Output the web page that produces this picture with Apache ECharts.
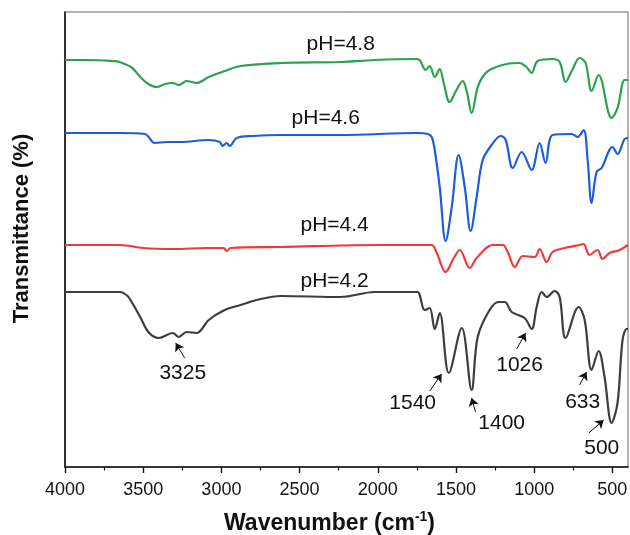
<!DOCTYPE html>
<html>
<head>
<meta charset="utf-8">
<script src="https://cdn.jsdelivr.net/npm/echarts@6/dist/echarts.min.js"></script>
<style>
html,body{margin:0;padding:0;background:#fff;}
#chart{width:630px;height:535px;}
</style>
</head>
<body>
<div id="chart"></div>
<script>
// Wavenumber (cm-1) / transmittance (arbitrary offset units) pairs
const ph48 = [[4000,407],[3855,407],[3700,406],[3650,405],[3570,399],[3519,390],[3467,383],[3414,380],[3360,383],[3311,384],[3273,382],[3222,386],[3158,384],[3081,390],[2979,396],[2877,401],[2621,404],[2237,405],[2020,407],[1757,408],[1732,407],[1694,397],[1668,401],[1636,390],[1604,398],[1580,385],[1540,365],[1500,376],[1457,386],[1430,375],[1400,354],[1361,380],[1330,390],[1285,397],[1176,403],[1093,404],[1050,400],[1016,394],[978,406],[882,408],[837,405],[799,385],[760,396],[709,409],[671,404],[633,376],[588,392],[505,349],[467,359],[422,387],[400,387]];
const ph46 = [[4000,334],[3650,334],[3489,333],[3426,324],[3350,325],[3260,325],[3081,327],[3010,325],[2992,321],[2966,324],[2947,321],[2902,329],[2800,331],[2621,332],[2237,332],[1744,334],[1680,333],[1655,330],[1636,317],[1604,280],[1566,226],[1527,260],[1483,312],[1444,280],[1406,236],[1368,270],[1329,307],[1272,322],[1214,331],[1182,327],[1137,299],[1080,315],[1016,297],[965,324],[927,304],[882,332],[761,333],[722,330],[684,337],[658,307],[633,264],[601,295],[569,299],[499,320],[467,313],[422,328],[400,329]];
const ph44 = [[4000,222],[3650,222],[3500,219],[3300,218],[3100,219],[2985,219],[2966,216],[2940,219],[2621,220],[2020,222],[1730,222],[1655,222],[1623,214],[1566,195],[1514,209],[1476,217],[1412,199],[1368,209],[1265,222],[1201,222],[1169,215],[1124,200],[1073,211],[997,210],[965,218],[920,205],[882,215],[805,219],[709,222],[684,223],[646,212],[595,217],[563,208],[518,214],[454,217],[400,222]];
const ph42 = [[4000,175],[3850,175],[3650,175],[3600,171],[3570,164],[3519,150],[3467,135],[3400,129],[3311,134],[3273,130],[3222,135],[3158,134],[3081,147],[2979,157],[2877,162],[2775,167],[2621,171],[2237,170],[2020,175],[1744,175],[1732,172],[1700,157],[1668,159],[1636,138],[1604,154],[1546,94],[1463,139],[1400,77],[1361,130],[1285,157],[1227,165],[1188,165],[1144,155],[1061,149],[1016,138],[984,160],[952,175],[920,170],[869,176],[837,170],[799,129],[716,160],[677,147],[633,97],[588,116],[550,90],[505,44],[467,64],[435,127],[409,138],[400,138]];

const seriesNames = ['pH=4.8','pH=4.6','pH=4.4','pH=4.2'];
const seriesLabelPos = [[2237,423],[2333,349],[2276,242],[2276,186]];

const peakLabels = ['3325','1540','1400','1026','633','500'];
const peakLabelPos = [[3247,94],[1777,64],[1208,44],[1093,102],[690,65],[568,19]];
const arrowTails = [[3235,109],[1668,76],[1375,55],[1112,118],[710,82],[651,34]];
const arrowTips = [[3292,124],[1592,93],[1400,69],[1055,134],[665,95],[556,47]];

const majorTicks = [4000,3500,3000,2500,2000,1500,1000,500];
const minorTicks = [3750,3250,2750,2250,1750,1250,750];

const colors = ['#2aa24f','#1b5ddb','#f03a3a','#3d3d3d'];
const FONT = 'Liberation Sans, Arial, sans-serif';

const chart = echarts.init(document.getElementById('chart'));
const lineSeries = [ph48, ph46, ph44, ph42].map((d, i) => ({
  type: 'line', name: seriesNames[i], data: d, showSymbol: false, smooth: 0.35,
  lineStyle: {color: colors[i], width: 2.2}, itemStyle: {color: colors[i]}, xAxisIndex: 0, z: 3
}));

const textLabel = {show: true, position: 'inside', formatter: '{b}', fontSize: 21, color: '#111',
  fontFamily: FONT, textBorderWidth: 0, textBorderColor: 'transparent', opacity: 1};

chart.setOption({
  animation: false,
  textStyle: {fontFamily: FONT},
  grid: {left: 65, right: 2, top: 12, bottom: 68, show: true, borderColor: '#666', borderWidth: 1, outerBoundsMode: 'none', containLabel: false},
  xAxis: [{
    type: 'value', min: 400, max: 4000, inverse: true,
    axisLine: {show: true, lineStyle: {color: '#111', width: 1.6}},
    axisTick: {show: true, customValues: majorTicks, length: 6, lineStyle: {color: '#111', width: 1.4}},
    axisLabel: {customValues: majorTicks, fontSize: 18, color: '#111', margin: 14, fontFamily: FONT, formatter: v => String(v)},
    splitLine: {show: false},
    name: '{a|Wavenumber (cm}{b|-1}{a|)}',
    nameLocation: 'middle', nameGap: 43,
    nameTextStyle: {padding: [0, 34, 0, 0], rich: {
      a: {fontSize: 23, fontWeight: 'bold', color: '#111', fontFamily: FONT, lineHeight: 27},
      b: {fontSize: 14, fontWeight: 'bold', color: '#111', fontFamily: FONT, verticalAlign: 'top', lineHeight: 27, padding: [0, 0, 10, 0]}
    }}
  }, {
    type: 'value', min: 400, max: 4000, inverse: true, position: 'bottom',
    axisLine: {show: false},
    axisTick: {show: true, customValues: minorTicks, length: 3.5, lineStyle: {color: '#111', width: 1.2}},
    axisLabel: {show: false}, splitLine: {show: false}
  }],
  yAxis: {
    type: 'value', min: 0, max: 455,
    axisLine: {show: true, lineStyle: {color: '#111', width: 1.6}},
    axisTick: {show: false}, axisLabel: {show: false}, splitLine: {show: false},
    name: 'Transmittance (%)', nameLocation: 'middle', nameGap: 32,
    nameTextStyle: {fontSize: 22, fontWeight: 'bold', color: '#111', fontFamily: FONT, padding: [0, 0, 0, 22]}
  },
  series: lineSeries.concat([
    {
      type: 'scatter', symbolSize: 0, z: 5, itemStyle: {color: '#111'},
      data: seriesLabelPos.map((p, i) => ({name: seriesNames[i], value: p})),
      label: textLabel
    },
    {
      type: 'scatter', symbolSize: 0, z: 5, itemStyle: {color: '#111'},
      data: peakLabelPos.map((p, i) => ({name: peakLabels[i], value: p})),
      label: textLabel
    },
    {
      type: 'lines', coordinateSystem: 'cartesian2d', z: 6,
      symbol: ['none', 'arrow'], symbolSize: 8,
      lineStyle: {color: '#111', width: 1, opacity: 1},
      data: arrowTails.map((t, i) => ({coords: [t, arrowTips[i]]}))
    }
  ])
});
</script>
</body>
</html>
